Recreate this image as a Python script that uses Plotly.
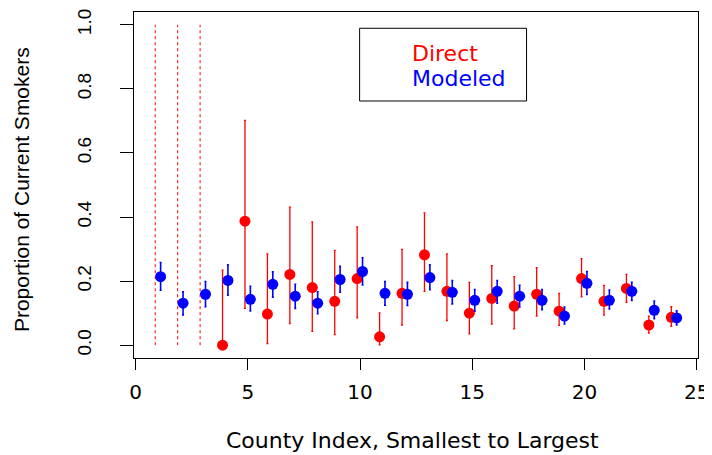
import plotly.graph_objects as go

# ---- data ----
county = list(range(1, 25))
direct = [None, None, None, 0.000, 0.387, 0.097, 0.221, 0.180, 0.137, 0.208, 0.026, 0.162,
          0.282, 0.168, 0.100, 0.146, 0.122, 0.159, 0.106, 0.208, 0.137, 0.177, 0.063, 0.087]
direct_lo = [0.0, 0.0, 0.0, 0.000, 0.115, 0.005, 0.067, 0.043, 0.033, 0.085, 0.001, 0.063,
             0.168, 0.077, 0.035, 0.066, 0.051, 0.091, 0.062, 0.151, 0.094, 0.134, 0.038, 0.059]
direct_hi = [1.0, 1.0, 1.0, 0.234, 0.702, 0.285, 0.431, 0.385, 0.296, 0.369, 0.101, 0.299,
             0.413, 0.285, 0.196, 0.248, 0.214, 0.242, 0.162, 0.270, 0.187, 0.221, 0.091, 0.120]
modeled = [0.214, 0.131, 0.159, 0.202, 0.143, 0.190, 0.153, 0.131, 0.205, 0.230, 0.162, 0.159,
           0.211, 0.165, 0.140, 0.168, 0.153, 0.140, 0.091, 0.193, 0.140, 0.168, 0.109, 0.085]
modeled_lo = [0.172, 0.094, 0.120, 0.156, 0.107, 0.150, 0.115, 0.098, 0.165, 0.188, 0.125, 0.124,
              0.173, 0.129, 0.106, 0.131, 0.119, 0.111, 0.066, 0.158, 0.113, 0.140, 0.083, 0.063]
modeled_hi = [0.258, 0.167, 0.199, 0.251, 0.184, 0.229, 0.190, 0.167, 0.246, 0.273, 0.199, 0.196,
              0.251, 0.202, 0.174, 0.202, 0.187, 0.174, 0.119, 0.230, 0.172, 0.196, 0.138, 0.107]
x_ticks = [0, 5, 10, 15, 20, 25]
y_ticks = [0.0, 0.2, 0.4, 0.6, 0.8, 1.0]
y_tick_labels = ["0.0", "0.2", "0.4", "0.6", "0.8", "1.0"]

RED = "#FF0000"
BLUE = "#0000FF"
D_OFF = -0.13
M_OFF = 0.11

fig = go.Figure()

# dashed intervals where the direct estimate is missing
dx, dy = [], []
for c, v, lo, hi in zip(county, direct, direct_lo, direct_hi):
    if v is None:
        dx += [c + D_OFF, c + D_OFF, None]
        dy += [lo, hi, None]
fig.add_trace(go.Scatter(x=dx, y=dy, mode="lines",
                         line=dict(color=RED, width=1, dash="3px,3px"),
                         hoverinfo="skip", showlegend=False))

# direct estimates with intervals
dxs, dys, dp, dm = [], [], [], []
for c, v, lo, hi in zip(county, direct, direct_lo, direct_hi):
    if v is not None:
        dxs.append(c + D_OFF)
        dys.append(v)
        dp.append(hi - v)
        dm.append(v - lo)
fig.add_trace(go.Scatter(x=dxs, y=dys, mode="markers",
                         marker=dict(color=RED, size=11, line=dict(width=0)),
                         error_y=dict(type="data", symmetric=False, array=dp, arrayminus=dm,
                                      color=RED, thickness=1.3, width=1),
                         showlegend=False))

# modeled estimates with intervals
fig.add_trace(go.Scatter(x=[c + M_OFF for c in county], y=modeled, mode="markers",
                         marker=dict(color=BLUE, size=11, line=dict(width=0)),
                         error_y=dict(type="data", symmetric=False,
                                      array=[h - v for h, v in zip(modeled_hi, modeled)],
                                      arrayminus=[v - l for v, l in zip(modeled, modeled_lo)],
                                      color=BLUE, thickness=1.6, width=1),
                         showlegend=False))

# page body has an 8px margin: work in screenshot coordinates and shift
OFF = 8
W, H = 712 - OFF, 455 - OFF
PL, PR, PT, PB = 134.3, 698.5, 9.3, 358.0   # plot box in screenshot pixels
L, R, T, B = PL - OFF, W - (PR - OFF), PT - OFF, H - (PB - OFF)
pw, ph = PR - PL, PB - PT

def px(xs):
    return (xs - PL) / pw

def py(ys):
    return 1 - (ys - PT) / ph

fig.update_layout(
    width=W, height=H,
    margin=dict(l=L, r=R, t=T, b=B, pad=0),
    paper_bgcolor="white", plot_bgcolor="white",
    showlegend=False,
    xaxis=dict(range=[-0.076, 25.06], tickvals=x_ticks, ticks="outside", ticklen=11,
               tickcolor="black", tickwidth=1, showline=True, linecolor="black", linewidth=1.3,
               mirror=True, showgrid=False, zeroline=False,
               tickfont=dict(family="DejaVu Sans", size=20, color="black"),
               ticklabelstandoff=5, ticklabeloverflow="allow"),
    yaxis=dict(range=[-0.04, 1.04], tickvals=y_ticks, ticktext=y_tick_labels, tickangle=-90,
               ticks="outside", ticklen=13, tickcolor="black", tickwidth=1,
               showline=True, linecolor="black", linewidth=1.3, mirror=True,
               showgrid=False, zeroline=False,
               tickfont=dict(family="Liberation Sans, Arial", size=19, color="black"),
               ticklabelstandoff=21, ticklabeloverflow="allow"),
    shapes=[dict(type="rect", xref="paper", yref="paper",
                 x0=px(360), x1=px(527), y0=py(99), y1=py(25.7),
                 line=dict(color="black", width=1), fillcolor="rgba(0,0,0,0)")],
    annotations=[
        dict(text="Direct", xref="paper", yref="paper", x=px(410), y=py(51),
             xanchor="left", yanchor="middle", showarrow=False,
             font=dict(family="DejaVu Sans", size=22, color=RED)),
        dict(text="Modeled", xref="paper", yref="paper", x=px(410), y=py(76),
             xanchor="left", yanchor="middle", showarrow=False,
             font=dict(family="DejaVu Sans", size=22, color=BLUE)),
        dict(text="County Index, Smallest to Largest", xref="paper", yref="paper",
             x=px(413), y=py(441), xanchor="center", yanchor="middle", showarrow=False,
             font=dict(family="DejaVu Sans", size=22, color="black")),
        dict(text="Proportion of Current Smokers", xref="paper", yref="paper",
             x=px(22), y=py(188), xanchor="center", yanchor="middle", textangle=-90,
             showarrow=False,
             font=dict(family="Liberation Sans, Arial", size=21, color="black")),
    ],
)

fig.write_html("out.html")
